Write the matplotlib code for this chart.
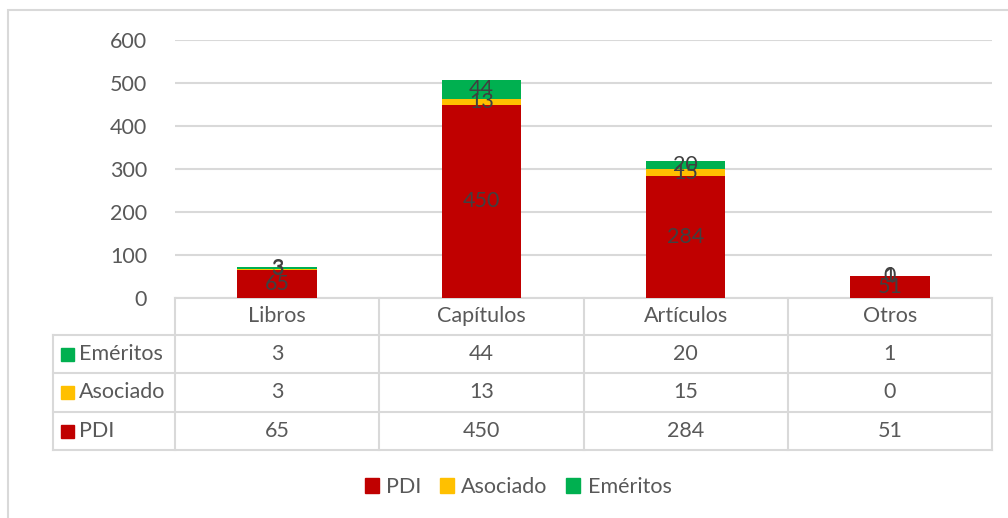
import matplotlib
matplotlib.use("Agg")
import matplotlib.pyplot as plt
from matplotlib.transforms import blended_transform_factory
from matplotlib.patches import Rectangle
from matplotlib.lines import Line2D

categories = ["Libros", "Capítulos", "Artículos", "Otros"]
pdi = [65, 450, 284, 51]
asociado = [3, 13, 15, 0]
emeritos = [3, 44, 20, 1]
series_names = ["PDI", "Asociado", "Eméritos"]
colors = ["#C00000", "#FFC000", "#00B050"]
yticks = [0, 100, 200, 300, 400, 500, 600]

plt.rcParams['font.family'] = ['Lato', 'DejaVu Sans']
FS = 15.5
TXT = "#595959"
GRID = "#D9D9D9"

W, H = 1008, 518
fig = plt.figure(figsize=(W / 100, H / 100), dpi=100)

# outer chart border
fig.add_artist(Rectangle((8 / W, -0.1), 1.2, (H - 10) / H + 0.1, transform=fig.transFigure,
                         fill=False, edgecolor=GRID, linewidth=1.5))

ax_l, ax_r, ax_t, ax_b = 175, 992, 40, 298
ax = fig.add_axes([ax_l / W, (H - ax_b) / H, (ax_r - ax_l) / W, (ax_b - ax_t) / H])
ax.set_xlim(-0.5, len(categories) - 0.5)
ax.set_ylim(0, 600)
ax.set_yticks(yticks)
ax.set_yticklabels([str(v) for v in yticks], fontsize=FS, color=TXT)
ax.tick_params(axis='y', length=0, pad=20)
ax.set_xticks([])
for s in ax.spines.values():
    s.set_visible(False)
ax.grid(axis='y', color=GRID, linewidth=1.5)
ax.set_axisbelow(True)

x = list(range(len(categories)))
bw = 0.39
data = [pdi, asociado, emeritos]
bottom = [0] * len(categories)
for vals, c, name in zip(data, colors, series_names):
    bars = ax.bar(x, vals, bw, bottom=bottom, color=c, label=name, zorder=3)
    for xi, v, b in zip(x, vals, bottom):
        ax.text(xi, b + v / 2, str(v), ha='center', va='center', fontsize=FS,
                color="#404040", zorder=4)
    bottom = [b + v for b, v in zip(bottom, vals)]

# data table below axes
tr = blended_transform_factory(ax.transData, ax.transAxes)
axh = ax_b - ax_t
def yax(py):
    return (ax_b - py) / axh

row_edges = [298, 335, 373, 412, 450]
left_px = 53
x_left = ax.transData.inverted().transform(ax.transAxes.transform((0, 0)))[0]
x_tab_left = x_left - (ax_l - left_px) / (ax_r - ax_l) * len(categories)
lk = dict(color=GRID, linewidth=1.5, transform=tr, clip_on=False)
# horizontal lines
ax.add_line(Line2D([-0.5, 3.5], [yax(row_edges[0])] * 2, **lk))
for py in row_edges[1:]:
    ax.add_line(Line2D([x_tab_left, 3.5], [yax(py)] * 2, **lk))
# vertical lines
for xb in [-0.5, 0.5, 1.5, 2.5, 3.5]:
    ax.add_line(Line2D([xb, xb], [yax(row_edges[0]), yax(row_edges[-1])], **lk))
ax.add_line(Line2D([x_tab_left, x_tab_left], [yax(row_edges[1]), yax(row_edges[-1])], **lk))

# header
hy = yax((row_edges[0] + row_edges[1]) / 2)
for xi, cat in zip(x, categories):
    ax.text(xi, hy, cat, ha='center', va='center', fontsize=FS, color=TXT,
            transform=tr, clip_on=False)
# rows (Eméritos, Asociado, PDI)
rows = list(zip(series_names, colors, data))[::-1]
px_per_unit = (ax_r - ax_l) / len(categories)
for i, (name, c, vals) in enumerate(rows):
    yc = yax((row_edges[i + 1] + row_edges[i + 2]) / 2)
    sq = 13 / px_per_unit
    sx = x_tab_left + 8 / px_per_unit
    ax.add_patch(Rectangle((sx, yc - (13 / axh) / 2), sq, 13 / axh, transform=tr,
                           color=c, clip_on=False))
    ax.text(sx + sq + 5 / px_per_unit, yc, name, ha='left', va='center', fontsize=FS,
            color=TXT, transform=tr, clip_on=False)
    for xi, v in zip(x, vals):
        ax.text(xi, yc, str(v), ha='center', va='center', fontsize=FS, color=TXT,
                transform=tr, clip_on=False)

# legend
handles = [Rectangle((0, 0), 1, 1, color=c) for c in colors]
fig.legend(handles, series_names, loc='center', bbox_to_anchor=(518 / W, (H - 487) / H),
           ncol=3, frameon=False, fontsize=FS, labelcolor=TXT, handlelength=0.65,
           handleheight=0.65, handletextpad=0.35, columnspacing=0.85)

fig.savefig("out.png", dpi=100)
